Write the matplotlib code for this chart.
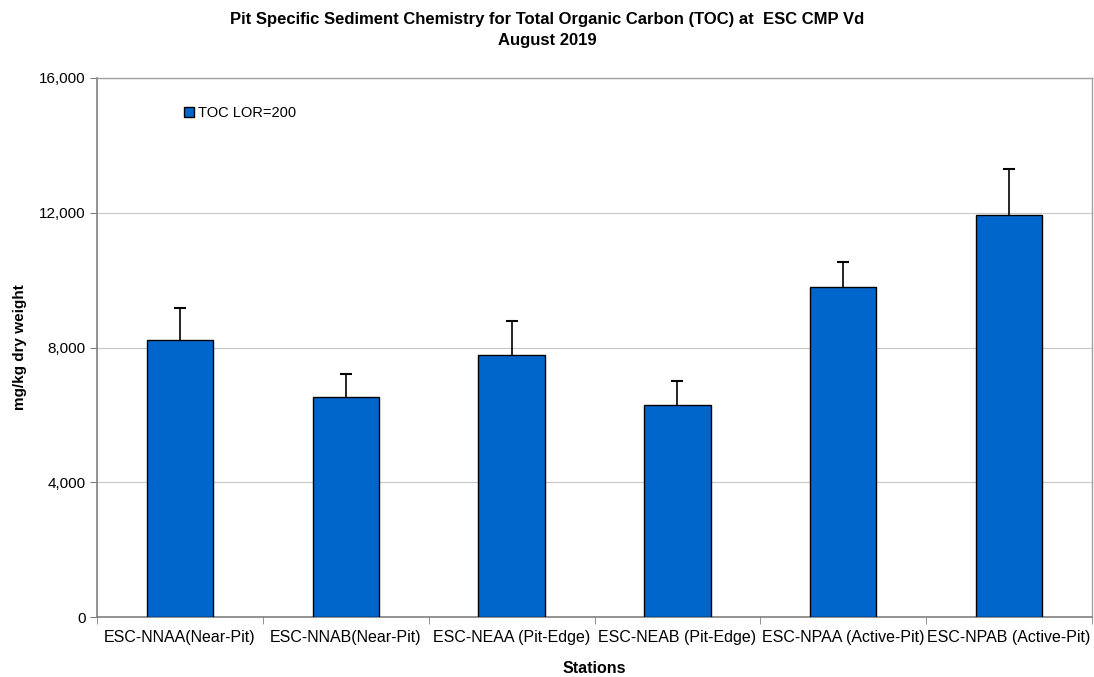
import matplotlib
matplotlib.use("Agg")
import matplotlib.pyplot as plt
import numpy as np

plt.rcParams['font.family'] = ['Liberation Sans', 'DejaVu Sans']

# ---------------- data ----------------
stations = ["ESC-NNAA(Near-Pit)", "ESC-NNAB(Near-Pit)", "ESC-NEAA (Pit-Edge)",
            "ESC-NEAB (Pit-Edge)", "ESC-NPAA (Active-Pit)", "ESC-NPAB (Active-Pit)"]
toc = [8220, 6540, 7770, 6290, 9800, 11930]
toc_err = [960, 660, 1010, 720, 750, 1360]
yticks = [0, 4000, 8000, 12000, 16000]

fig = plt.figure(figsize=(10.94, 6.77), dpi=100)
ax = fig.add_axes([0.0887, 0.0886, 0.9095, 0.7962])

x = np.arange(len(stations))
ax.bar(x, toc, width=0.4, color="#0066CC", edgecolor="black", linewidth=1.0,
       label="TOC LOR=200", zorder=3)
# upper error bars only
eb = ax.errorbar(x, toc, yerr=[np.zeros(len(toc)), toc_err], fmt="none",
                 ecolor="black", elinewidth=1.2, capsize=4, capthick=1.5, zorder=4)
eb[1][0].set_visible(False)   # hide the lower caps

ax.set_xlim(-0.5, len(stations) - 0.5)
ax.set_ylim(0, 16000)
ax.set_yticks(yticks)
ax.set_yticklabels([f"{v:,}" for v in yticks], fontsize=11)
ax.set_xticks(x)
ax.set_xticklabels(stations, fontsize=11.5)
ax.set_xticks(np.arange(len(stations) + 1) - 0.5, minor=True)
ax.tick_params(axis="x", which="major", length=0, pad=9)
ax.tick_params(axis="x", which="minor", length=5, color="#808080", direction="out")
ax.tick_params(axis="y", length=5, color="#808080", direction="out", pad=3)

ax.grid(axis="y", color="#C8C8C8", linewidth=0.8, zorder=0)
for side in ["left", "bottom"]:
    ax.spines[side].set_color("#808080")
    ax.spines[side].set_linewidth(1.2)
for side in ["right", "top"]:
    ax.spines[side].set_color("#A0A0A0")
    ax.spines[side].set_linewidth(1.0)

ax.set_ylabel("mg/kg dry weight", fontsize=11, fontweight="bold", labelpad=9)
ax.set_xlabel("Stations", fontsize=11.5, fontweight="bold", labelpad=12)
fig.suptitle("Pit Specific Sediment Chemistry for Total Organic Carbon (TOC) at  ESC CMP Vd\nAugust 2019",
             fontsize=12, fontweight="bold", y=0.983, linespacing=1.55)

leg = ax.legend(loc="upper left", bbox_to_anchor=(0.082, 0.958), frameon=False,
                fontsize=10.5, handlelength=0.65, handleheight=0.65, handletextpad=0.3,
                borderaxespad=0)

fig.savefig("out.png", dpi=100)
